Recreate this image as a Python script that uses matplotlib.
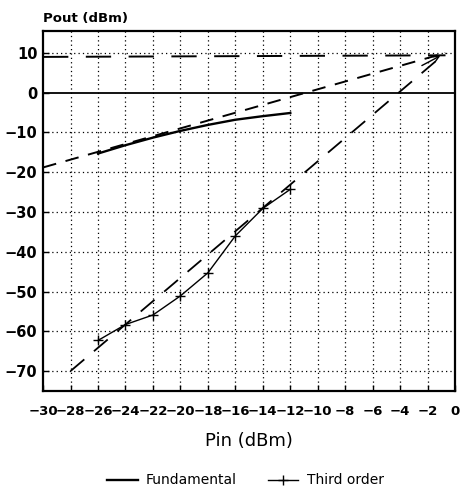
import numpy as np
from matplotlib import pyplot as plt
from matplotlib.lines import Line2D

pin_fund = [-26, -24, -22, -20, -18, -16, -14, -12]
pout_fund = [-15.3, -13.2, -11.3, -9.6, -8.1, -6.8, -5.9, -5.1]

pin_third = [-26, -24, -22, -20, -18, -16, -14, -12]
pout_third = [-62.3, -58.3, -55.9, -51.1, -45.3, -36.0, -29.1, -24.3]

# extrapolated asymptotes (end points)
fund_ext_x = [-30, -0.7]
fund_ext_y = [-18.8, 10.0]
third_ext_x = [-28, -0.7]
third_ext_y = [-70, 10.0]
sat_x = [-30, -0.7]
sat_y = [9.0, 9.4]

xticks = list(range(-30, 1, 2))
yticks = [10, 0, -10, -20, -30, -40, -50, -60, -70]

fig = plt.figure(figsize=(4.63, 4.93), dpi=100)
ax = fig.add_axes([0.093, 0.207, 0.890, 0.730])

# dotted grid, 0 line solid
for x in xticks[1:-1]:
    ax.axvline(x, color='black', ls=(0, (1, 2.5)), lw=0.9, zorder=1)
for y in yticks:
    if y == 0:
        ax.axhline(y, color='black', lw=1.3, zorder=1)
    else:
        ax.axhline(y, color='black', ls=(0, (1, 2.5)), lw=0.9, zorder=1)

ax.plot(sat_x, sat_y, color='black', lw=1.4, ls=(0, (13, 9)), zorder=2)
ax.plot(fund_ext_x, fund_ext_y, color='black', lw=1.4, ls=(0, (7, 5)), zorder=2)
ax.plot(third_ext_x, third_ext_y, color='black', lw=1.3, ls=(0, (10, 7)), zorder=2)

ax.plot(pin_fund, pout_fund, color='black', lw=1.7, zorder=3)
ax.plot(pin_third, pout_third, color='black', lw=1.0, marker='+',
        ms=7, mew=1.0, zorder=3)

ax.annotate('', xy=(-0.9, 9.6), xytext=(-2.6, 6.5),
            arrowprops=dict(arrowstyle='->', color='black', lw=1.0))

ax.set_xlim(-30, 0)
ax.set_ylim(-75, 15.5)
ax.set_xticks(xticks)
ax.set_yticks(yticks)
ax.tick_params(direction='in', length=4, width=1, labelsize=9.5)
ax.tick_params(axis='x', pad=10)
ax.tick_params(axis='y', pad=4)
for lab in ax.get_xticklabels() + ax.get_yticklabels():
    lab.set_fontweight('bold')
for lab in ax.get_yticklabels():
    lab.set_fontsize(10.5)
for s in ax.spines.values():
    s.set_linewidth(1.6)

ax.set_xlabel('Pin (dBm)', fontsize=13, labelpad=10)
ax.text(0.0, 1.018, 'Pout (dBm)', transform=ax.transAxes, fontsize=9.5,
        fontweight='bold', ha='left', va='bottom')

handles = [Line2D([], [], color='black', lw=1.7),
           Line2D([], [], color='black', lw=1.0, marker='+', ms=7)]
fig.legend(handles, ['Fundamental', 'Third order'], loc='lower center',
           bbox_to_anchor=(0.53, -0.014), ncol=2, frameon=False, fontsize=10,
           handlelength=2.2, handletextpad=0.6, columnspacing=2.2)

fig.savefig('out.png', dpi=100, facecolor='white')
